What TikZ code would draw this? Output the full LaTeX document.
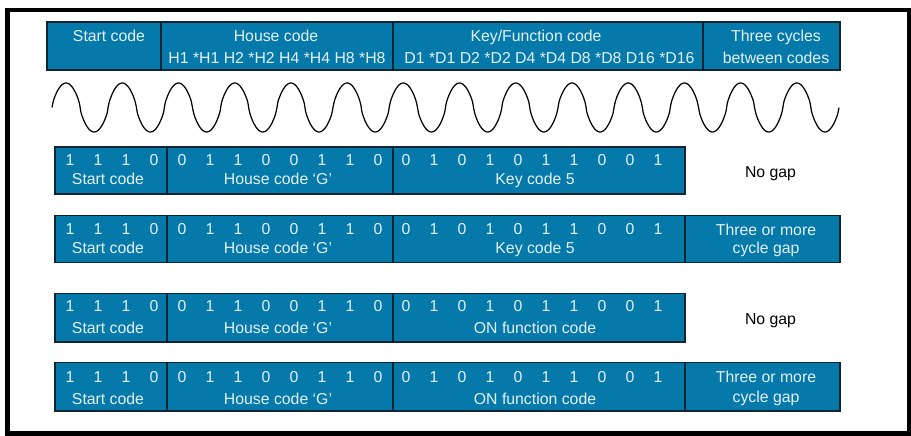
\documentclass[tikz,border=0pt]{standalone}
\usepackage{fontspec}
\setmainfont{Liberation Sans}
\definecolor{codeblue}{HTML}{0479AA}
\definecolor{codeline}{HTML}{0B2533}
\definecolor{codetext}{HTML}{E4F1F7}

\begin{document}
\begin{tikzpicture}[x=0.2mm,y=-0.2mm,
  cell/.style={fill=codeblue,draw=codeline,line width=0.8pt},
  txt/.style={text=codetext,font=\fontsize{9}{11}\selectfont,inner sep=0pt,anchor=base},
  gaptxt/.style={text=black,font=\fontsize{9}{11}\selectfont,inner sep=0pt,anchor=base}]

\useasboundingbox (0,0) rectangle (911,435);
\draw[line width=0.9mm] (7.5,10) rectangle (909,433.5);

\draw[cell] (47,22) rectangle (161,70);
\draw[cell] (161,22) rectangle (393,70);
\draw[cell] (393,22) rectangle (703,70);
\draw[cell] (703,22) rectangle (840,70);
\node[txt] (hstart) at (109,41.5) {Start code};
\node[txt] (hhouse) at (276,41.5) {House code};
\node[txt] (hhbits) at (277,63) {H1 *H1 H2 *H2 H4 *H4 H8 *H8};
\node[txt] (hkey) at (536,41.5) {Key/Function code};
\node[txt] (hkbits) at (549.5,63) {D1 *D1 D2 *D2 D4 *D4 D8 *D8 D16 *D16};
\node[txt] (hcyc) at (776,41.5) {Three cycles};
\node[txt] (hcyc2) at (776,63) {between codes};

% carrier, 14 cycles
\draw[line width=0.7pt,domain=52:839,samples=600,smooth] plot (\x,{107.5-24.5*sign(sin(6.4041*(\x-52)))*(abs(sin(6.4041*(\x-52)))+0.0001)^0.7});

\foreach \r/\yt/\yb/\ya/\yc/\key in {1/147/194/165.5/184.3/Key code 5,
    2/215.7/262.7/234.2/253.3/Key code 5,
    3/293.5/342/311.5/333/ON function code,
    4/362.5/411/382.5/404/ON function code}{
  \draw[cell] (55,\yt) rectangle (167,\yb);
  \draw[cell] (167,\yt) rectangle (393,\yb);
  \draw[cell] (393,\yt) rectangle (685,\yb);
  \foreach \b [count=\i from 0] in {1,1,1,0,0,1,1,0,0,1,1,0,0,1,0,1,0,1,1,0,0,1}
    \node[txt] (bit\r-\i) at ({70+28*\i},\ya) {\b};
  \node[txt] (start\r) at (108,\yc) {Start code};
  \node[txt] (house\r) at (278,\yc) {House code ‘G’};
  \node[txt] (key\r) at (535,\yc) {\key};
}

\node[gaptxt] (nogap1) at (770.5,177) {No gap};
\node[gaptxt] (nogap3) at (770.5,324.5) {No gap};

\draw[cell] (685,215.7) rectangle (840,262.7);
\node[txt] (gap2) at (766,235.5) {Three or more};
\node[txt] (gap2b) at (766,253.3) {cycle gap};

\draw[cell] (685,362.5) rectangle (840,411);
\node[txt] (gap4) at (766,382.5) {Three or more};
\node[txt] (gap4b) at (766,402) {cycle gap};

\end{tikzpicture}
\end{document}
